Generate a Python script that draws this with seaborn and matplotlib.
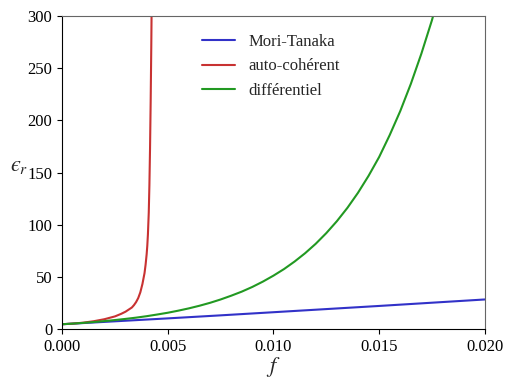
import numpy as np
import pandas as pd
import matplotlib
matplotlib.use('Agg')
import matplotlib.pyplot as plt
import seaborn as sns

# Values
f_mt = [0.0, 0.0025, 0.005, 0.0075, 0.01, 0.0125, 0.015, 0.0175, 0.02]
eps_mt = [5.0, 7.8, 10.6, 13.5, 16.5, 19.5, 22.5, 25.6, 28.7]

f_ac = [0.0, 0.0005, 0.001, 0.0015, 0.002, 0.0025, 0.0028, 0.003, 0.0033,
        0.0034, 0.0035, 0.0036, 0.0037, 0.0038, 0.0039, 0.00395, 0.004,
        0.00403, 0.00406, 0.0041, 0.00413, 0.00416, 0.00419, 0.00422,
        0.00425]
eps_ac = [5.0, 5.6, 6.5, 7.9, 9.8, 12.5, 15.0, 17.0, 21.0,
          23.3, 26.2, 30.0, 35.5, 43.5, 54.0, 62.0, 72.0,
          80.0, 91.0, 112.0, 138.0, 173.0, 218.0, 273.0,
          340.0]

f_diff = [0.0, 0.0005, 0.001, 0.0015, 0.002, 0.0025, 0.003, 0.0035, 0.004,
          0.0045, 0.005, 0.0055, 0.006, 0.0065, 0.007, 0.0075, 0.008, 0.0085,
          0.009, 0.0095, 0.01, 0.0105, 0.011, 0.0115, 0.012, 0.0125, 0.013,
          0.0135, 0.014, 0.0145, 0.015, 0.0155, 0.016, 0.0165, 0.017, 0.0175,
          0.018]
eps_diff = [5.0, 5.6, 6.3, 7.1, 8.0, 9.0, 10.1, 11.3, 12.7,
            14.3, 16.0, 18.0, 20.2, 22.7, 25.5, 28.7, 32.3, 36.2,
            40.7, 45.8, 51.5, 57.8, 65.0, 73.0, 82.0, 92.2, 103.6,
            116.4, 130.8, 147.0, 165.0, 186.0, 209.0, 235.0, 264.0, 296.0,
            333.0]

labels = ['Mori-Tanaka', 'auto-cohérent', 'différentiel']
colors = ['#3232c8', '#c83232', '#229922']

sns.set_style('ticks')
plt.rcParams['font.family'] = ['Liberation Serif', 'DejaVu Serif']
plt.rcParams['mathtext.fontset'] = 'stix'

fig = plt.figure(figsize=(5.05, 3.8), dpi=100)
ax = fig.add_axes([0.123, 0.133, 0.837, 0.825])

sns.lineplot(x=f_mt, y=eps_mt, ax=ax, color=colors[0], label=labels[0], lw=1.5)
sns.lineplot(x=f_ac, y=eps_ac, ax=ax, color=colors[1], label=labels[1], lw=1.5)
sns.lineplot(x=f_diff, y=eps_diff, ax=ax, color=colors[2], label=labels[2], lw=1.5)

ax.set_xlim(0, 0.02)
ax.set_ylim(0, 300)
ax.set_xticks([0.0, 0.005, 0.01, 0.015, 0.02])
ax.set_xticklabels(['0.000', '0.005', '0.010', '0.015', '0.020'])
ax.set_yticks([0, 50, 100, 150, 200, 250, 300])
ax.tick_params(labelsize=12, colors='black')

for s in ['top', 'right']:
    ax.spines[s].set_color('0.4')
for s in ['left', 'bottom']:
    ax.spines[s].set_color('black')

ax.set_xlabel(r'$f$', fontsize=16, labelpad=0)
ax.set_ylabel('$\u03f5_r$', fontsize=16, rotation=0, ha='center', va='center')
ax.yaxis.set_label_coords(-0.102, 0.52)

ax.legend(frameon=False, fontsize=12, loc='upper left',
          bbox_to_anchor=(0.295, 0.99), labelspacing=0.5)

fig.savefig('out.png', dpi=100)
